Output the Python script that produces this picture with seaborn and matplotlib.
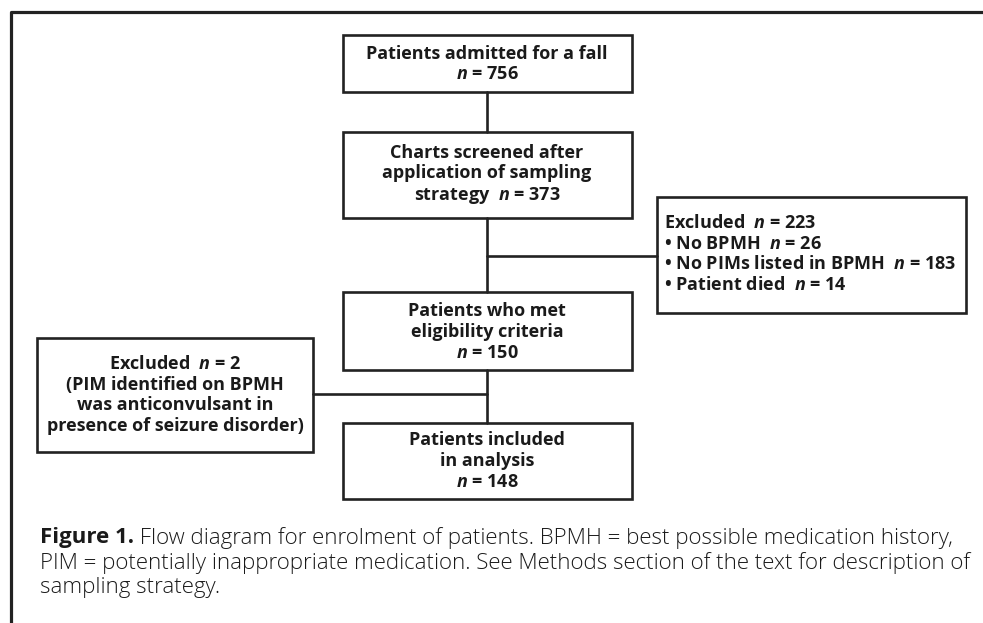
import matplotlib
matplotlib.use("Agg")
import matplotlib.pyplot as plt
from matplotlib.patches import Rectangle
import seaborn as sns
import pandas as pd

# ---- data ----
n_admitted = 756
n_screened = 373
n_excluded1 = 223
excl1_reasons = ["No BPMH", "No PIMs listed in BPMH", "Patient died"]
excl1_counts = [26, 183, 14]
n_eligible = 150
n_excluded2 = 2
n_included = 148
caption_bold = "Figure 1."
caption_lines = [
    " Flow diagram for enrolment of patients. BPMH = best possible medication history,",
    "PIM = potentially inappropriate medication. See Methods section of the text for description of",
    "sampling strategy.",
]

sns.set_theme(style="white")
plt.rcParams["font.family"] = ["Open Sans", "DejaVu Sans"]
plt.rcParams["mathtext.fontset"] = "custom"
plt.rcParams["mathtext.it"] = "Open Sans:italic:bold"
plt.rcParams["mathtext.rm"] = "Open Sans:bold"
plt.rcParams["mathtext.bf"] = "Open Sans:bold"

W, H = 983, 623
fig = plt.figure(figsize=(W / 100, H / 100), dpi=100)
ax = fig.add_axes([0, 0, 1, 1])
ax.set_xlim(0, W)
ax.set_ylim(H, 0)
ax.axis("off")

DARK = "#222222"
FS = 13
LS = 1.2

def box(x0, y0, x1, y1):
    ax.add_patch(Rectangle((x0, y0), x1 - x0, y1 - y0, fill=False,
                           edgecolor=DARK, linewidth=1.9, zorder=3))

def connector(xs, ys, lw=1.9):
    d = pd.DataFrame({"x": xs, "y": ys})
    sns.lineplot(data=d, x="x", y="y", ax=ax, color=DARK, linewidth=lw,
                 sort=False, estimator=None, legend=False, zorder=2)

# outer frame
connector([10.5, 10.5, W + 5], [H + 5, 12, 12], lw=2.3)

cx = 487
# boxes
box(343, 35, 632, 92)
box(343, 132, 632, 218)
box(657, 197, 966, 313)
box(343, 292, 632, 370)
box(37, 338, 313, 452)
box(343, 423, 632, 499)

# connectors
connector([cx, cx], [92, 132])
connector([cx, cx], [218, 292])
connector([cx, 657], [256, 256])
connector([cx, cx], [370, 423])
connector([313, cx], [394, 394])
ax.set_xlim(0, W)
ax.set_ylim(H, 0)
ax.set_xlabel("")
ax.set_ylabel("")

tkw = dict(ha="center", va="center", fontsize=FS, fontweight="bold",
           color="#1a1a1a", linespacing=LS, zorder=4)

ax.text(cx, 64, "Patients admitted for a fall\n$n$ = %d" % n_admitted, **tkw)
ax.text(cx, 175, "Charts screened after\napplication of sampling\nstrategy  $n$ = %d" % n_screened, **tkw)
ax.text(cx, 332, "Patients who met\neligibility criteria\n$n$ = %d" % n_eligible, **tkw)
ax.text(cx, 461, "Patients included\nin analysis\n$n$ = %d" % n_included, **tkw)
ax.text(175, 395, "Excluded  $n$ = %d\n(PIM identified on BPMH\nwas anticonvulsant in\npresence of seizure disorder)" % n_excluded2, **tkw)

excl_lines = ["Excluded  $n$ = %d" % n_excluded1] + [
    "\u2022 %s  $n$ = %d" % (r, c) for r, c in zip(excl1_reasons, excl1_counts)]
ax.text(664, 254, "\n".join(excl_lines), ha="left", va="center", fontsize=FS,
        fontweight="bold", color="#1a1a1a", linespacing=LS, zorder=4)

# caption
cfs = 16
t = ax.text(40, 538, caption_bold, ha="left", va="center", fontsize=cfs,
            fontweight="bold", color="#1a1a1a")
fig.canvas.draw()
bb = t.get_window_extent()
x_after = bb.x1
ax.text(x_after, 538, caption_lines[0], ha="left", va="center", fontsize=cfs,
        fontweight="light", color="#1a1a1a")
ax.text(40, 563, caption_lines[1], ha="left", va="center", fontsize=cfs,
        fontweight="light", color="#1a1a1a")
ax.text(40, 588, caption_lines[2], ha="left", va="center", fontsize=cfs,
        fontweight="light", color="#1a1a1a")

fig.savefig("out.png", dpi=100)
